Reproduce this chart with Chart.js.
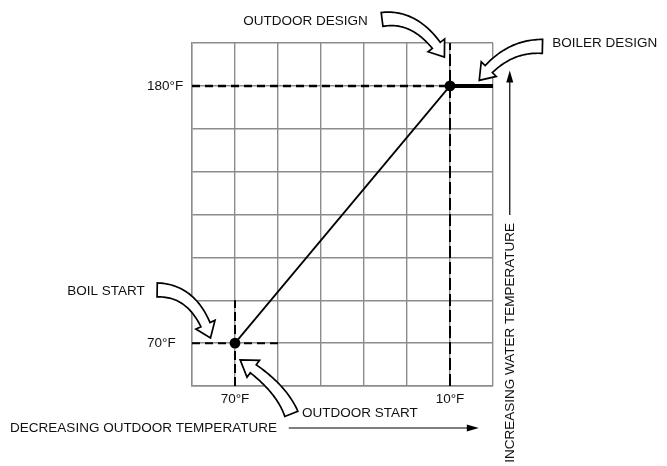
<!DOCTYPE html>
<html>
<head>
<meta charset="utf-8">
<script src="https://cdn.jsdelivr.net/npm/chart.js@4.4.0/dist/chart.umd.min.js"></script>
<style>
    html, body { margin: 0; padding: 0; background: #fff; }
    #wrap { width: 667px; height: 466px; }
</style>
</head>
<body>
<div id="wrap"><canvas id="resetChart"></canvas></div>
<script>
// Grid is 7 columns (outdoor temperature) by 8 rows (water temperature)
const colCount = 7;
const rowCount = 8;
const xTickLabels = ['', '70°F', '', '', '', '', '10°F', ''];
const yTickLabels = ['', '70°F', '', '', '', '', '', '180°F', ''];

// Reset curve: outdoor start -> outdoor design
const curveX = [1, 6];
const curveY = [1, 7];
// Boiler design plateau
const plateauX = [6, 7];
const plateauY = [7, 7];

// Dashed guide lines
const outdoorStartX = [1, 1], outdoorStartY = [0, 2];
const boilStartX = [0, 2], boilStartY = [1, 1];
const outdoorDesignX = [6, 6], outdoorDesignY = [0, 8];
const boilerDesignX = [0, 6], boilerDesignY = [7, 7];

const FONT = '13.5px "Liberation Sans", Arial, sans-serif';

function toPoints(xs, ys) {
    return xs.map((x, i) => ({ x: x, y: ys[i] }));
}

function dashed(xs, ys, dash, width) {
    return {
        data: toPoints(xs, ys),
        showLine: true,
        borderColor: '#000',
        borderWidth: width,
        borderDash: dash,
        pointRadius: 0,
        clip: false
    };
}

// hollow curved block arrow along a quadratic curve, body tapers toward the head
function blockArrow(ctx, p0, c, p1, tailW, neckW, headW, headL) {
    const N = 40;
    const pts = [];
    const len = [0];
    for (let i = 0; i <= N; i++) {
        const t = i / N, u = 1 - t;
        pts.push({
            x: u * u * p0.x + 2 * u * t * c.x + t * t * p1.x,
            y: u * u * p0.y + 2 * u * t * c.y + t * t * p1.y
        });
        if (i > 0) len.push(len[i - 1] + Math.hypot(pts[i].x - pts[i - 1].x, pts[i].y - pts[i - 1].y));
    }
    const total = len[N];
    let k = N;
    while (k > 0 && total - len[k] < headL) k--;
    const normal = (i) => {
        const a = pts[Math.max(i - 1, 0)], b = pts[Math.min(i + 1, N)];
        const d = Math.hypot(b.x - a.x, b.y - a.y);
        return { x: -(b.y - a.y) / d, y: (b.x - a.x) / d };
    };
    const left = [], right = [];
    for (let i = 0; i <= k; i++) {
        const n = normal(i);
        const w = tailW + (neckW - tailW) * (i / k);
        left.push({ x: pts[i].x + n.x * w / 2, y: pts[i].y + n.y * w / 2 });
        right.push({ x: pts[i].x - n.x * w / 2, y: pts[i].y - n.y * w / 2 });
    }
    const nb = normal(k);
    const base = pts[k];
    ctx.beginPath();
    ctx.moveTo(left[0].x, left[0].y);
    left.forEach(p => ctx.lineTo(p.x, p.y));
    ctx.lineTo(base.x + nb.x * headW / 2, base.y + nb.y * headW / 2);
    ctx.lineTo(p1.x, p1.y);
    ctx.lineTo(base.x - nb.x * headW / 2, base.y - nb.y * headW / 2);
    for (let i = right.length - 1; i >= 0; i--) ctx.lineTo(right[i].x, right[i].y);
    ctx.closePath();
    ctx.fillStyle = '#fff';
    ctx.fill();
    ctx.strokeStyle = '#000';
    ctx.lineWidth = 1.7;
    ctx.lineJoin = 'miter';
    ctx.stroke();
}

function lineArrow(ctx, a, b) {
    const ang = Math.atan2(b.y - a.y, b.x - a.x);
    ctx.strokeStyle = '#000';
    ctx.fillStyle = '#000';
    ctx.lineWidth = 1.2;
    ctx.beginPath();
    ctx.moveTo(a.x, a.y);
    ctx.lineTo(b.x - 8 * Math.cos(ang), b.y - 8 * Math.sin(ang));
    ctx.stroke();
    ctx.beginPath();
    ctx.moveTo(b.x, b.y);
    ctx.lineTo(b.x - 12 * Math.cos(ang) + 3.5 * Math.sin(ang), b.y - 12 * Math.sin(ang) - 3.5 * Math.cos(ang));
    ctx.lineTo(b.x - 12 * Math.cos(ang) - 3.5 * Math.sin(ang), b.y - 12 * Math.sin(ang) + 3.5 * Math.cos(ang));
    ctx.closePath();
    ctx.fill();
}

// callouts and axis captions, placed in grid units
const callouts = {
    id: 'callouts',
    afterDraw(chart) {
        const ctx = chart.ctx;
        const xs = chart.scales.x, ys = chart.scales.y;
        const P = (gx, gy) => ({ x: xs.getPixelForValue(gx), y: ys.getPixelForValue(gy) });
        ctx.save();

        blockArrow(ctx, P(4.42, 8.55), P(5.26, 8.67), P(5.87, 7.67), 14, 10, 21, 14);
        blockArrow(ctx, P(8.15, 7.92), P(7.29, 7.95), P(6.68, 7.13), 14, 10, 21, 14);
        blockArrow(ctx, P(-0.81, 2.24), P(0.08, 2.24), P(0.43, 1.12), 14, 10, 21, 14);
        blockArrow(ctx, P(2.31, -0.65), P(2.05, 0.02), P(1.12, 0.61), 14, 10, 21, 14);

        ctx.fillStyle = '#111';
        ctx.font = FONT;
        ctx.textBaseline = 'middle';
        ctx.textAlign = 'left';
        let p = P(1.19, 8.51); ctx.fillText('OUTDOOR DESIGN', p.x, p.y);
        p = P(8.38, 8.0); ctx.fillText('BOILER DESIGN', p.x, p.y);
        p = P(-2.9, 2.21); ctx.fillText('BOIL START', p.x, p.y);
        p = P(2.56, -0.63); ctx.fillText('OUTDOOR START', p.x, p.y);
        p = P(-4.23, -0.98); ctx.fillText('DECREASING OUTDOOR TEMPERATURE', p.x, p.y);

        lineArrow(ctx, P(2.25, -0.98), P(6.67, -0.98));
        lineArrow(ctx, P(7.39, 3.99), P(7.39, 7.36));

        p = P(7.4, 3.8);
        ctx.translate(p.x, p.y);
        ctx.rotate(-Math.PI / 2);
        ctx.fillStyle = '#111';
        ctx.textAlign = 'right';
        ctx.fillText('INCREASING WATER TEMPERATURE', 0, 0);
        ctx.restore();
    }
};

const config = {
    type: 'scatter',
    data: {
        datasets: [
            dashed(boilerDesignX, boilerDesignY, [8, 5], 2.5),
            dashed(outdoorDesignX, outdoorDesignY, [12, 4], 2),
            dashed(boilStartX, boilStartY, [8, 5], 2),
            dashed(outdoorStartX, outdoorStartY, [9, 4], 2),
            {
                data: toPoints(curveX, curveY),
                showLine: true,
                borderColor: '#000',
                borderWidth: 1.8,
                pointRadius: 4.5,
                pointBackgroundColor: '#000',
                pointBorderColor: '#000',
                clip: false
            },
            {
                data: toPoints(plateauX, plateauY),
                showLine: true,
                borderColor: '#000',
                borderWidth: 4,
                pointRadius: 0,
                clip: false
            }
        ]
    },
    options: {
        responsive: true,
        maintainAspectRatio: false,
        animation: false,
        layout: {
            padding: { left: 147, right: 174, top: 43, bottom: 0 }
        },
        plugins: {
            legend: { display: false },
            tooltip: { enabled: false }
        },
        scales: {
            x: {
                type: 'linear',
                min: 0,
                max: colCount,
                afterFit: function(scale) { scale.height = 80; },
                ticks: {
                    stepSize: 1,
                    autoSkip: false,
                    maxRotation: 0,
                    padding: 5,
                    color: '#111',
                    font: { family: '"Liberation Sans", Arial, sans-serif', size: 13.5 },
                    callback: function(value) { return xTickLabels[value] || ''; }
                },
                grid: { color: '#8c8c8c', lineWidth: 1.4, drawTicks: false },
                border: { color: '#8c8c8c', width: 1.4 }
            },
            y: {
                type: 'linear',
                min: 0,
                max: rowCount,
                afterFit: function(scale) { scale.width = 45; },
                ticks: {
                    stepSize: 1,
                    autoSkip: false,
                    crossAlign: 'far',
                    color: '#111',
                    font: { family: '"Liberation Sans", Arial, sans-serif', size: 13.5 },
                    callback: function(value) { return yTickLabels[value] || ''; }
                },
                grid: { color: '#8c8c8c', lineWidth: 1.4, drawTicks: false },
                border: { color: '#8c8c8c', width: 1.4 }
            }
        }
    },
    plugins: [callouts]
};

const ctx = document.getElementById('resetChart').getContext('2d');
const resetChart = new Chart(ctx, config);
</script>
</body>
</html>
